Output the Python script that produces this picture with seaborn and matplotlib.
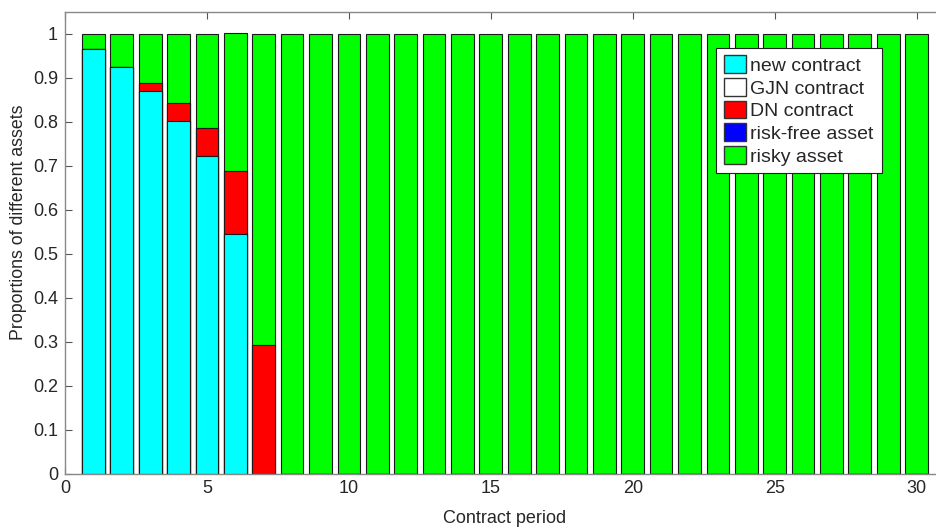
import numpy as np
import pandas as pd
import seaborn as sns
import matplotlib.pyplot as plt
from matplotlib.patches import Patch

periods = list(range(1, 31))
new_contract = [0.9645, 0.924, 0.870, 0.802, 0.722, 0.544] + [0.0] * 24
gjn_contract = [0.0] * 30
dn_contract = [0.0, 0.0, 0.017, 0.040, 0.064, 0.143, 0.2925] + [0.0] * 23
risk_free = [0.0] * 30
risky = [0.0355, 0.076, 0.113, 0.158, 0.214, 0.315, 0.7075] + [1.0] * 23

labels = ["new contract", "GJN contract", "DN contract", "risk-free asset", "risky asset"]
colors = ["#00FFFF", "#FFFFFF", "#FF0000", "#0000FF", "#00FF00"]

sns.set_style("ticks")
plt.rcParams["font.family"] = ["Liberation Sans", "DejaVu Sans"]

df = pd.DataFrame({
    "period": periods,
    "new contract": new_contract,
    "GJN contract": gjn_contract,
    "DN contract": dn_contract,
    "risk-free asset": risk_free,
    "risky asset": risky,
})
cum = df[labels].cumsum(axis=1)

fig = plt.figure(figsize=(9.37, 5.28), dpi=100)
ax = fig.add_axes([65 / 937, 1 - 473.5 / 528, 880 / 937, 461.8 / 528])

# draw cumulative totals from top layer down so each stack shows
for lab, col in zip(labels[::-1], colors[::-1]):
    sns.barplot(x=df["period"], y=cum[lab], native_scale=True, color=col,
                width=0.8, edgecolor="#1a1a1a", linewidth=0.8, saturation=1,
                ax=ax)

ax.set_xlim(0, 31)
ax.set_ylim(0, 1.05)
ax.set_xticks([0, 5, 10, 15, 20, 25, 30])
ax.set_yticks(np.round(np.arange(0, 1.01, 0.1), 1))
ax.set_yticklabels(["0", "0.1", "0.2", "0.3", "0.4", "0.5", "0.6", "0.7", "0.8", "0.9", "1"])
ax.set_xlabel("Contract period", fontsize=13, color="#262626")
ax.set_ylabel("Proportions of different assets", fontsize=12.8, color="#262626")
ax.xaxis.set_label_coords(0.5, -0.08)
ax.yaxis.set_label_coords(-0.043, 0.545)

ax.tick_params(direction="in", top=True, right=True, length=5, width=0.8,
               colors="#262626", labelsize=13, color="#555555", pad=5)
for s in ax.spines.values():
    s.set_visible(True)
    s.set_color("#888888")
    s.set_linewidth(1.0)

handles = [Patch(facecolor=c, edgecolor="#333333", label=l) for l, c in zip(labels, colors)]
leg = ax.legend(handles=handles, loc="upper right", bbox_to_anchor=(0.928, 0.922),
                fontsize=14, frameon=True, fancybox=False, framealpha=1,
                handlelength=1.1, handleheight=1.0, handletextpad=0.25,
                borderpad=0.4, labelspacing=0.17, borderaxespad=0)
leg.get_frame().set_edgecolor("#222222")
leg.get_frame().set_linewidth(0.8)

fig.savefig("out.png", dpi=100)
